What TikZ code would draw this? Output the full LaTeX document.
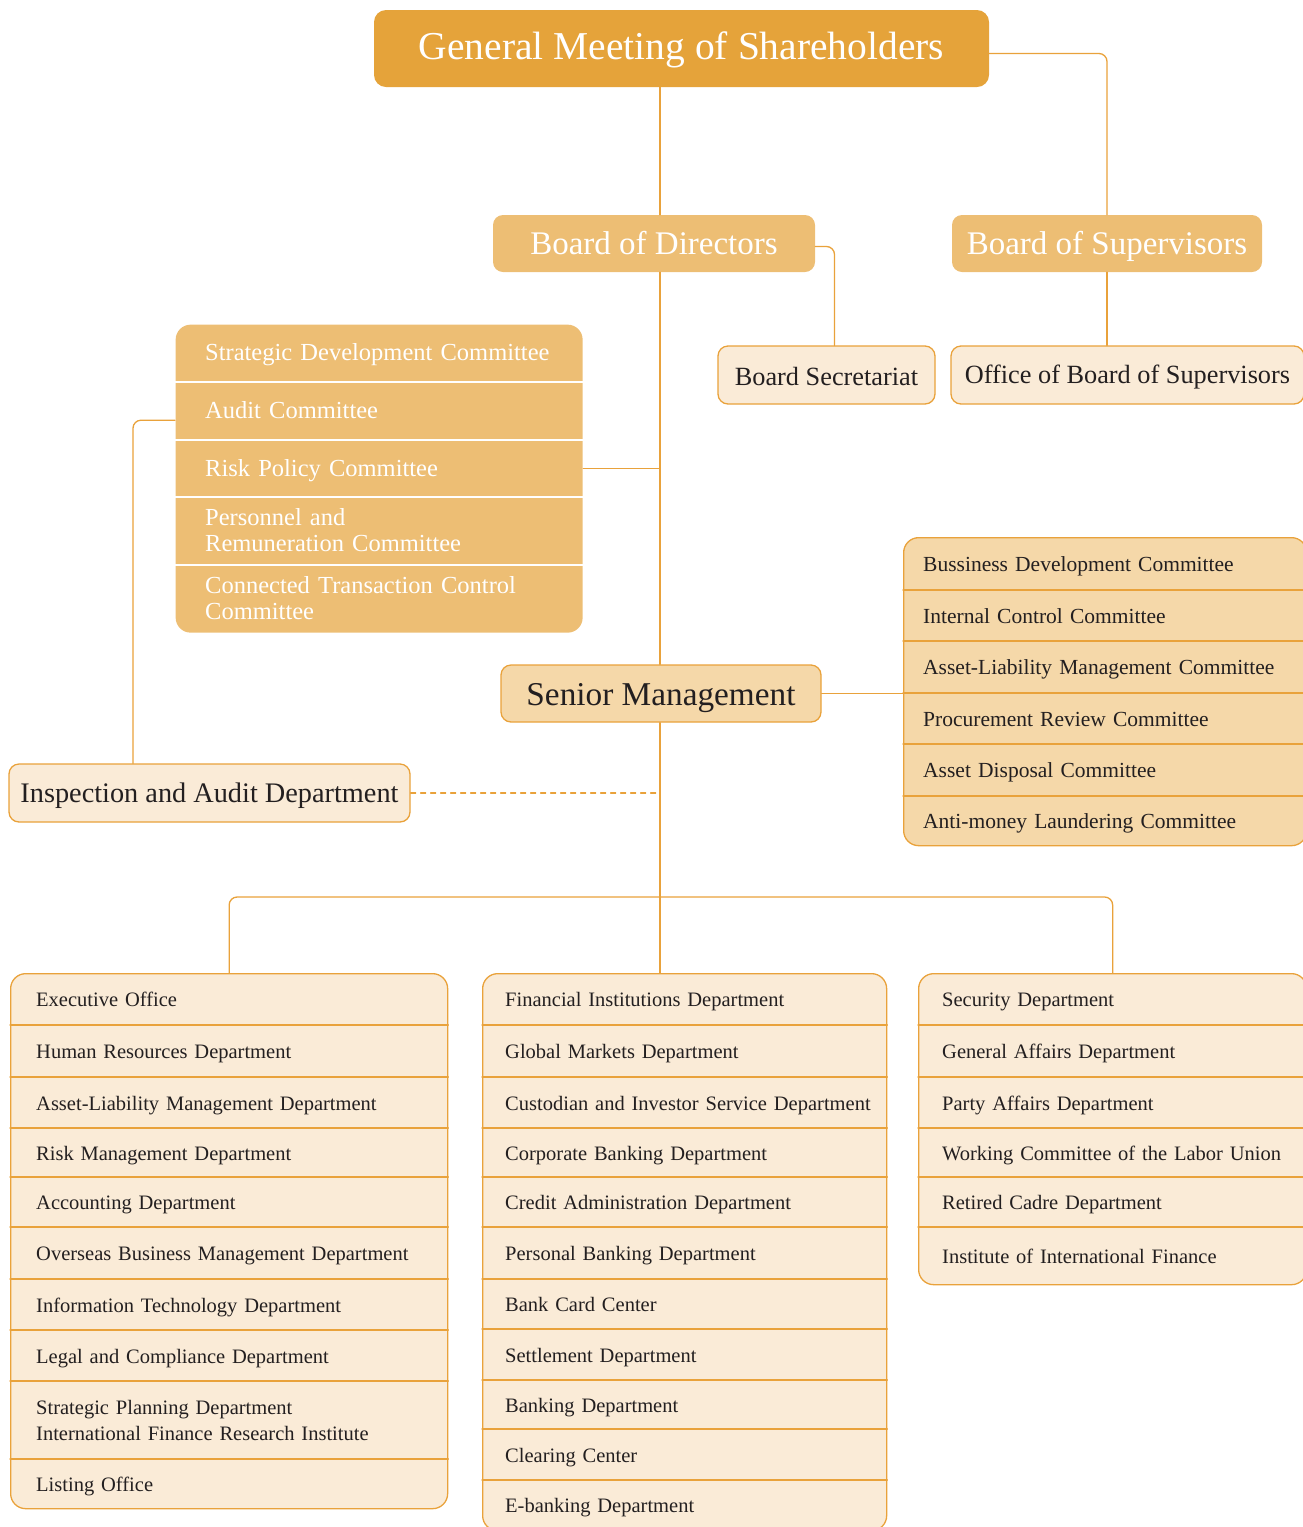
\documentclass[tikz,border=0pt]{standalone}
\usepackage{fontspec}
\setmainfont{Liberation Serif}
\usetikzlibrary{calc}

\definecolor{gmorange}{HTML}{E5A33A}
\definecolor{boardorange}{HTML}{EDBE74}
\definecolor{smtan}{HTML}{F5D8A9}
\definecolor{cream}{HTML}{FAEBD7}
\definecolor{linkorange}{HTML}{E9A23B}
\definecolor{inkdark}{HTML}{231F20}

\tikzset{
    link/.style={draw=linkorange, line width=1.3pt, rounded corners=8pt},
    dashlink/.style={draw=linkorange, line width=1.3pt, dash pattern=on 5pt off 5pt},
    onebox/.style={inner sep=0pt, text depth=0pt},
    topbox/.style={onebox, fill=gmorange, rounded corners=12pt, text=white},
    boardbox/.style={onebox, fill=boardorange, rounded corners=10pt, text=white},
    lightbox/.style={onebox, fill=cream, draw=linkorange, line width=1.3pt, rounded corners=10pt, text=inkdark},
    stackbox/.style={line width=1.3pt, rounded corners=15pt, inner sep=0pt, anchor=north west},
    rowbox/.style={anchor=north west, inner ysep=0pt, align=left,
        execute at begin node=\rule{0pt}{0.79\baselineskip},
        execute at end node=\rule[-0.21\baselineskip]{0pt}{0pt}},
    orangesep/.style={draw=linkorange, line width=1.3pt},
    whitesep/.style={draw=white, line width=2pt},
    deptfont/.style={font=\fontsize{20.5}{26}\selectfont, text=inkdark},
}

\begin{document}
\begin{tikzpicture}[x=1pt, y=-1pt, line cap=round, line join=round]

    \useasboundingbox (0,0) rectangle (1303,1527);
    \clip (0,0) rectangle (1303,1527);

    % Shareholders and boards
    \node[topbox, text height=21.6pt, minimum width=615pt, minimum height=77pt,
        font=\fontsize{39.5}{44}\selectfont] (gm) at (681.5,48.5)
        {General Meeting of Shareholders};

    \node[boardbox, text height=21pt, minimum width=322pt, minimum height=57pt,
        font=\fontsize{33}{38}\selectfont] (bod) at (654,243.5) {Board of Directors};
    \node[boardbox, text height=21pt, minimum width=310pt, minimum height=57pt,
        font=\fontsize{33}{38}\selectfont] (bos) at (1107,243.5) {Board of Supervisors};

    \node[lightbox, text height=21.4pt, minimum width=217pt, minimum height=58pt,
        font=\fontsize{26.3}{30}\selectfont] (sec) at (826.5,375) {Board Secretariat};
    \node[lightbox, text height=16.6pt, minimum width=353pt, minimum height=58pt,
        font=\fontsize{26.3}{30}\selectfont] (obos) at (1127.5,375) {Office of Board of Supervisors};

    % Committees under the board
    \node[stackbox, fill=boardorange, minimum width=407pt, minimum height=308pt] (bcom) at (175,324) {};
    \foreach \t/\h/\txt [count=\i] in {324/58/{Strategic Development Committee},
        382/58/{Audit Committee}, 440/57/{Risk Policy Committee},
        497/68/{Personnel and\\Remuneration Committee},
        565/67/{Connected Transaction Control\\Committee}}
    {
        \node[rowbox, inner xsep=30pt, text width=347pt, minimum height=\h*1pt,
            font=\fontsize{24.5}{26}\selectfont, text=white] (bcom-\i) at (175,\t) {\txt};
        \ifnum\i>1 \draw[whitesep] (bcom.west |- bcom-\i.north) -- (bcom.east |- bcom-\i.north); \fi
    }

    % Management
    \node[lightbox, text height=23pt, fill=smtan, minimum width=320pt, minimum height=57pt,
        font=\fontsize{33.3}{38}\selectfont] (sm) at (661,693.5) {Senior Management};

    \node[lightbox, text height=19.4pt, minimum width=401pt, minimum height=58pt,
        font=\fontsize{28.3}{32}\selectfont] (insp) at (209.5,793) {Inspection and Audit Department};

    \node[stackbox, draw=linkorange, fill=smtan, minimum width=403pt, minimum height=308pt] (smc) at (903,537) {};
    \foreach \t/\h/\txt [count=\i] in {537/53/{Bussiness Development Committee},
        590/51/{Internal Control Committee}, 641/52/{Asset-Liability Management Committee},
        693/51/{Procurement Review Committee}, 744/52/{Asset Disposal Committee},
        796/49/{Anti-money Laundering Committee}}
    {
        \node[rowbox, inner xsep=20pt, text width=375pt, minimum height=\h*1pt,
            font=\fontsize{21.5}{26}\selectfont, text=inkdark] (smc-\i) at (903,\t) {\txt};
        \ifnum\i>1 \draw[orangesep] (smc.west |- smc-\i.north) -- (smc.east |- smc-\i.north); \fi
    }

    % Departments
    \node[stackbox, draw=linkorange, fill=cream, minimum width=437pt, minimum height=535pt] (deptA) at (10,973) {};
    \foreach \t/\h/\txt [count=\i] in {973/52/{Executive Office},
        1025/52/{Human Resources Department}, 1077/51/{Asset-Liability Management Department},
        1128/49/{Risk Management Department}, 1177/50/{Accounting Department},
        1227/52/{Overseas Business Management Department},
        1279/51/{Information Technology Department}, 1330/51/{Legal and Compliance Department},
        1381/78/{Strategic Planning Department\\International Finance Research Institute},
        1459/49/{Listing Office}}
    {
        \node[rowbox, deptfont, inner xsep=26pt, text width=400pt, minimum height=\h*1pt] (deptA-\i) at (10,\t) {\txt};
        \ifnum\i>1 \draw[orangesep] (deptA.west |- deptA-\i.north) -- (deptA.east |- deptA-\i.north); \fi
    }

    \node[stackbox, draw=linkorange, fill=cream, minimum width=404pt, minimum height=557pt] (deptB) at (482,973) {};
    \foreach \t/\h/\txt [count=\i] in {973/52/{Financial Institutions Department},
        1025/52/{Global Markets Department}, 1077/51/{Custodian and Investor Service Department},
        1128/49/{Corporate Banking Department}, 1177/50/{Credit Administration Department},
        1227/52/{Personal Banking Department}, 1279/50/{Bank Card Center},
        1329/51/{Settlement Department}, 1380/49/{Banking Department},
        1429/51/{Clearing Center}, 1480/50/{E-banking Department}}
    {
        \node[rowbox, deptfont, inner xsep=23pt, text width=390pt, minimum height=\h*1pt] (deptB-\i) at (482,\t) {\txt};
        \ifnum\i>1 \draw[orangesep] (deptB.west |- deptB-\i.north) -- (deptB.east |- deptB-\i.north); \fi
    }

    \node[stackbox, draw=linkorange, fill=cream, minimum width=388pt, minimum height=311pt] (deptC) at (918,973) {};
    \foreach \t/\h/\txt [count=\i] in {973/52/{Security Department},
        1025/52/{General Affairs Department}, 1077/51/{Party Affairs Department},
        1128/49/{Working Committee of the Labor Union}, 1177/50/{Retired Cadre Department},
        1227/57/{Institute of International Finance}}
    {
        \node[rowbox, deptfont, inner xsep=24pt, text width=360pt, minimum height=\h*1pt] (deptC-\i) at (918,\t) {\txt};
        \ifnum\i>1 \draw[orangesep] (deptC.west |- deptC-\i.north) -- (deptC.east |- deptC-\i.north); \fi
    }

    % Connectors
    \coordinate (spine) at (660,0);
    \coordinate (auditbend) at (133,0);
    \coordinate (bus) at (0,897);

    \draw[link] (gm.south -| spine) -- (bod.north -| spine);
    \draw[link] (bod.south -| spine) -- (sm.north -| spine);
    \draw[link] (sm.south -| spine) -- (deptB.north -| spine);
    \draw[link] ([yshift=-5pt]gm.east) -| (bos.north);
    \draw[link] ([yshift=-3pt]bod.east) -| ([xshift=8pt]sec.north);
    \draw[link] (bos.south) -- (bos.south |- obos.north);
    \draw[link] (bcom-3.east -| bcom.east) -- (bcom-3.east -| spine);
    \draw[link] ([yshift=-9pt]bcom-2.west) -| (auditbend |- insp.north);
    \draw[dashlink] (insp.east) -- (insp.east -| spine);
    \draw[link] (sm.east) -- (smc.west |- sm.east);
    \draw[link] (deptA.north) |- (bus -| spine) -| (deptC.north);

\end{tikzpicture}
\end{document}
